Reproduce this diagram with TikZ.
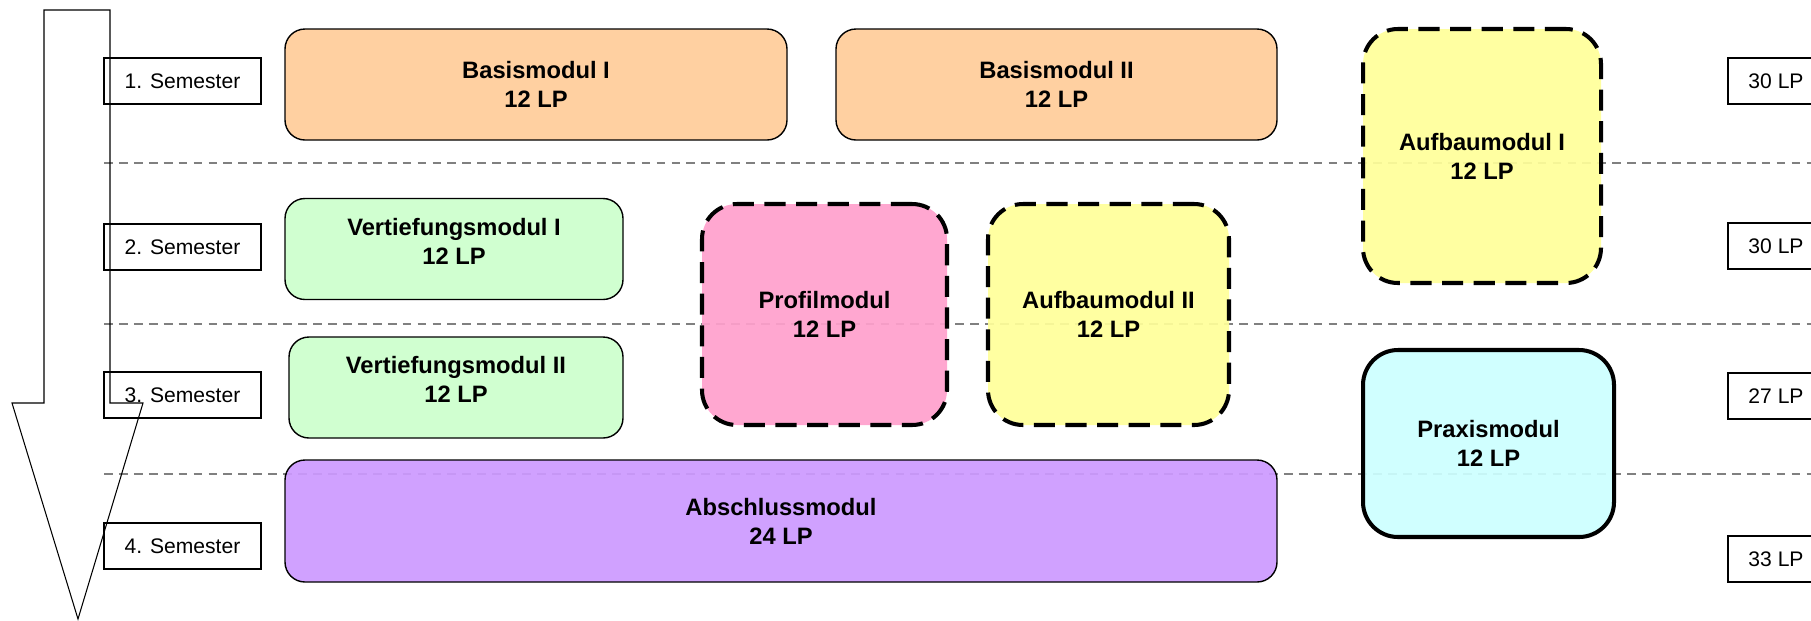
\documentclass[tikz,border=0pt]{standalone}
\usepackage{fontspec}
\setmainfont{Liberation Sans}
\usepackage{xcolor}
\usepackage{tikz}
\definecolor{basisfarbe}{HTML}{FFCC99}
\definecolor{vertiefungfarbe}{HTML}{CCFFCC}
\definecolor{profilfarbe}{HTML}{FFA0CC}
\definecolor{aufbaufarbe}{HTML}{FFFF99}
\definecolor{praxisfarbe}{HTML}{CCFFFF}
\definecolor{abschlussfarbe}{HTML}{CC99FF}
\tikzset{
  modul/.style={draw,rounded corners=0.4cm,line width=0.8pt,align=center,inner sep=0pt,
    font=\fontsize{13.5}{16.5}\selectfont\bfseries,fill opacity=0.92,text opacity=1},
  dickmodul/.style={modul,line width=2.3pt,rounded corners=0.7cm},
  gestrichelt/.style={dash pattern=on 12pt off 6pt},
  semester/.style={draw,line width=0.8pt,inner sep=0pt,minimum width=157*0.02cm,minimum height=46*0.02cm,
    font=\fontsize{12}{14}\selectfont},
  trenner/.style={gray,line width=1pt,dash pattern=on 5pt off 3.5pt}
}

\begin{document}
\begin{tikzpicture}[x=0.02cm,y=-0.02cm]
\useasboundingbox(0,0)rectangle(1811,620);

\foreach\y in{163,324,474}\draw[trenner](104,\y)--(1811,\y);

\draw[line width=0.6pt](44,10)--(110,10)--(110,403)--(143,403)--(78,619)--(12,403)--(44,403)--cycle;

\foreach\n/\y in{1/81,2/247,3/395,4/546}\node[semester](sem\n)at(182.5,\y){\n. Semester};
\foreach\n/\y/\lp in{1/81/30,2/246/30,3/396/27,4/559/33}\node[semester,minimum width=96*0.02cm](lp\n)at(1776,\y){\lp\ LP};

\node[modul,fill=basisfarbe,minimum width=502*0.02cm,minimum height=111*0.02cm](basisI)at(536,84.5){Basismodul I\\12 LP};
\node[modul,fill=basisfarbe,minimum width=441*0.02cm,minimum height=111*0.02cm](basisII)at(1056.5,84.5){Basismodul II\\12 LP};
\node[dickmodul,gestrichelt,fill=aufbaufarbe,minimum width=238*0.02cm,minimum height=254*0.02cm](aufbauI)at(1482,156){Aufbaumodul I\\12 LP};

\node[modul,text depth=0.32cm,fill=vertiefungfarbe,minimum width=338*0.02cm,minimum height=101*0.02cm](vertI)at(454,249){Vertiefungsmodul I\\12 LP};
\node[modul,text depth=0.32cm,fill=vertiefungfarbe,minimum width=334*0.02cm,minimum height=101*0.02cm](vertII)at(456,387.5){Vertiefungsmodul II\\12 LP};

\node[dickmodul,gestrichelt,fill=profilfarbe,minimum width=245*0.02cm,minimum height=221*0.02cm](profil)at(824.5,314.5){Profilmodul\\12 LP};
\node[dickmodul,gestrichelt,fill=aufbaufarbe,minimum width=241*0.02cm,minimum height=221*0.02cm](aufbauII)at(1108.5,314.5){Aufbaumodul II\\12 LP};

\node[dickmodul,fill=praxisfarbe,minimum width=251*0.02cm,minimum height=187*0.02cm](praxis)at(1488.5,443.5){Praxismodul\\12 LP};
\node[modul,fill=abschlussfarbe,minimum width=992*0.02cm,minimum height=122*0.02cm](abschluss)at(781,521){Abschlussmodul\\24 LP};

\end{tikzpicture}
\end{document}
